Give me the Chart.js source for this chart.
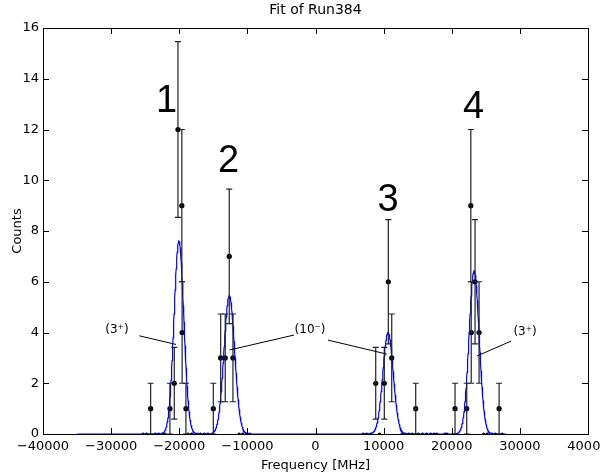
<!DOCTYPE html>
<html>
<head>
<meta charset="utf-8">
<script src="https://cdn.jsdelivr.net/npm/chart.js@4.4.1/dist/chart.umd.min.js"></script>
<style>
  html, body { margin: 0; padding: 0; background: #fff; }
  canvas { display: block; }
</style>
</head>
<body>
<canvas id="fitChart" width="601" height="474"></canvas>
<script>
// measured bins (frequency in MHz, counts, error)
const freq   = [-24200, -21370, -20730, -20190, -19620, -19580, -19020, -15000,
                -13920, -13250, -12660, -12120,
                8840, 10100, 10690, 11190, 14710,
                20480, 22200, 22800, 22860, 23420, 24010, 26950];
const counts = [1, 1, 2, 12, 9, 4, 1, 1,
                3, 3, 7, 3,
                2, 2, 6, 3, 1,
                1, 1, 9, 4, 6, 4, 1];
const errors = [1, 1, 1.41, 3.46, 3, 2, 1, 1,
                1.73, 1.73, 2.65, 1.73,
                1.41, 1.41, 2.45, 1.73, 1,
                1, 1, 3, 2, 2.45, 2, 1];

// empty bins along the baseline
const zeroFreq = [-25300, -24800, -23500, -23000, -22500, -22100, -18700, -18200,
                  -17400, -16900, -16300, -15800, -11200, -10700, -10100, -9700,
                  7000, 7500, 8100, 9400, 12700, 13200, 13700, 14200, 15100, 15700,
                  16300, 16900, 17400, 17800, 19000, 19300, 24700, 25200, 25900,
                  26400, 27400];

// fitted peaks (gaussians)
const peakCenters = [-20050, -12650, 10650, 23280];
const peakHeights = [7.6, 5.45, 4.0, 6.43];
const peakSigmas  = [720, 780, 760, 740];
const fitRange = [-35000, 28000];

const xTicks = [-40000, -30000, -20000, -10000, 0, 10000, 20000, 30000, 40000];
const yTicks = [0, 2, 4, 6, 8, 10, 12, 14, 16];

const peakLabels = [
  { text: '1', x: -21880, y: 13.1 },
  { text: '2', x: -12750, y: 10.75 },
  { text: '3', x: 10650, y: 9.2 },
  { text: '4', x: 23200, y: 12.85 }
];
const stateLabels = [
  { text: '(3\u207A)', x: -29150, y: 4.1, lines: [[-25870, 3.87, -20480, 3.53]] },
  { text: '(10\u207B)', x: -800, y: 4.1, lines: [[-3150, 3.9, -12630, 3.31], [1840, 3.7, 10450, 3.15]] },
  { text: '(3\u207A)', x: 30760, y: 4.02, lines: [[28700, 3.66, 23670, 3.07]] }
];

// fit curve
const fitData = [];
for (let f = fitRange[0]; f <= fitRange[1]; f += 50) {
  let c = 0;
  peakCenters.forEach((m, i) => {
    c += peakHeights[i] * Math.exp(-0.5 * Math.pow((f - m) / peakSigmas[i], 2));
  });
  fitData.push({ x: f, y: c });
}

const pointData = freq.map((f, i) => ({ x: f, y: counts[i] }));
const zeroData = zeroFreq.map(f => ({ x: f, y: 0 }));

const fmt = v => (v < 0 ? '\u2212' + Math.abs(v) : String(v));
const dejavu = '"DejaVu Sans", sans-serif';

const frameAndMarks = {
  id: 'frameAndMarks',
  afterDatasetsDraw(chart) {
    const ctx = chart.ctx;
    const xs = chart.scales.x, ys = chart.scales.y;
    const a = chart.chartArea;

    // error bars
    ctx.save();
    ctx.strokeStyle = '#222';
    ctx.lineWidth = 1.2;
    freq.forEach((f, i) => {
      const px = xs.getPixelForValue(f);
      const y1 = ys.getPixelForValue(counts[i] + errors[i]);
      const y0 = ys.getPixelForValue(Math.max(counts[i] - errors[i], 0));
      ctx.beginPath();
      ctx.moveTo(px, y0); ctx.lineTo(px, y1);
      ctx.moveTo(px - 3, y1); ctx.lineTo(px + 3, y1);
      ctx.moveTo(px - 3, y0); ctx.lineTo(px + 3, y0);
      ctx.stroke();
    });
    ctx.restore();

    // frame and inward ticks
    ctx.save();
    ctx.strokeStyle = '#000';
    ctx.lineWidth = 1;
    ctx.strokeRect(Math.round(a.left) + 0.5, Math.round(a.top) + 0.5,
                   Math.round(a.right - a.left), Math.round(a.bottom - a.top));
    ctx.beginPath();
    xTicks.forEach(v => {
      const px = Math.round(xs.getPixelForValue(v)) + 0.5;
      ctx.moveTo(px, a.bottom); ctx.lineTo(px, a.bottom - 6);
      ctx.moveTo(px, a.top); ctx.lineTo(px, a.top + 6);
    });
    yTicks.forEach(v => {
      const py = Math.round(ys.getPixelForValue(v)) + 0.5;
      ctx.moveTo(a.left, py); ctx.lineTo(a.left + 6, py);
      ctx.moveTo(a.right, py); ctx.lineTo(a.right - 6, py);
    });
    ctx.stroke();
    ctx.restore();
  },
  afterDraw(chart) {
    const ctx = chart.ctx;
    const xs = chart.scales.x, ys = chart.scales.y;
    ctx.save();
    ctx.fillStyle = '#000';
    ctx.textAlign = 'center';
    ctx.textBaseline = 'middle';
    ctx.font = '38px "Liberation Sans", Arial, sans-serif';
    peakLabels.forEach(l => {
      ctx.fillText(l.text, xs.getPixelForValue(l.x), ys.getPixelForValue(l.y));
    });
    ctx.font = '12px ' + dejavu;
    ctx.strokeStyle = '#000';
    ctx.lineWidth = 1;
    stateLabels.forEach(l => {
      ctx.fillText(l.text, xs.getPixelForValue(l.x), ys.getPixelForValue(l.y));
      l.lines.forEach(s => {
        ctx.beginPath();
        ctx.moveTo(xs.getPixelForValue(s[0]), ys.getPixelForValue(s[1]));
        ctx.lineTo(xs.getPixelForValue(s[2]), ys.getPixelForValue(s[3]));
        ctx.stroke();
      });
    });
    ctx.restore();
  }
};

new Chart(document.getElementById('fitChart'), {
  type: 'scatter',
  data: {
    datasets: [
      {
        label: 'fit',
        data: fitData,
        showLine: true,
        borderColor: '#0000ff',
        borderWidth: 1.2,
        pointRadius: 0,
        tension: 0
      },
      {
        label: 'empty',
        data: zeroData,
        pointRadius: 1.6,
        backgroundColor: '#000',
        borderWidth: 0
      },
      {
        label: 'counts',
        data: pointData,
        pointRadius: 2.6,
        backgroundColor: '#000',
        borderWidth: 0
      }
    ]
  },
  options: {
    responsive: false,
    animation: false,
    devicePixelRatio: 1,
    layout: { padding: { left: 0, right: 13, top: 0, bottom: 0 } },
    plugins: {
      legend: { display: false },
      tooltip: { enabled: false },
      title: { display: false }
    },
    scales: {
      x: {
        type: 'linear',
        min: -40000,
        max: 40000,
        grid: { display: false, drawTicks: false, tickLength: 0 },
        border: { display: false },
        afterBuildTicks: s => { s.ticks = xTicks.map(v => ({ value: v })); },
        ticks: {
          autoSkip: false,
          maxRotation: 0,
          padding: 5,
          color: '#000',
          font: { family: dejavu, size: 13 },
          callback: v => fmt(v)
        },
        title: {
          display: true,
          text: 'Frequency [MHz]',
          color: '#000',
          font: { family: dejavu, size: 13 },
          padding: { top: 0, bottom: 1 }
        },
        afterFit: s => { s.height = 40; s.paddingLeft = 0; s.paddingRight = 0; }
      },
      top: {
        type: 'linear',
        position: 'top',
        display: true,
        min: -40000,
        max: 40000,
        grid: { display: false, drawTicks: false, tickLength: 0 },
        border: { display: false },
        ticks: { display: false },
        title: {
          display: true,
          text: 'Fit of Run384',
          color: '#000',
          font: { family: dejavu, size: 14 },
          padding: { top: 2, bottom: 0 }
        },
        afterFit: s => { s.height = 28; s.paddingLeft = 0; s.paddingRight = 0; }
      },
      y: {
        type: 'linear',
        min: 0,
        max: 16,
        grid: { display: false, drawTicks: false, tickLength: 0 },
        border: { display: false },
        afterBuildTicks: s => { s.ticks = yTicks.map(v => ({ value: v })); },
        ticks: {
          padding: 4,
          color: '#000',
          font: { family: dejavu, size: 13 }
        },
        title: {
          display: true,
          text: 'Counts',
          color: '#000',
          font: { family: dejavu, size: 13 },
          padding: { top: 10, bottom: 0 }
        },
        afterFit: s => { s.width = 43; s.paddingTop = 0; s.paddingBottom = 0; }
      }
    }
  },
  plugins: [frameAndMarks]
});
</script>
</body>
</html>
